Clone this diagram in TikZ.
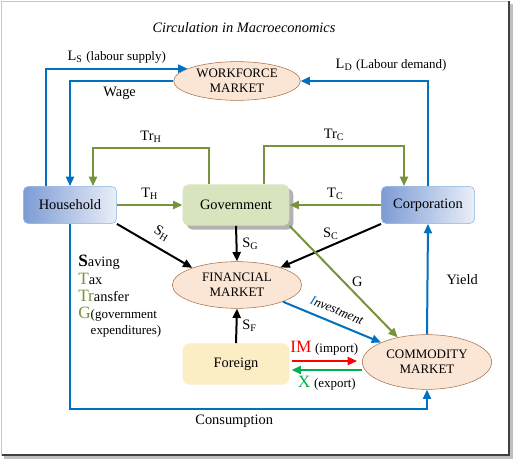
\documentclass[tikz,border=0pt]{standalone}
\usepackage{fontspec}
\setmainfont{Liberation Serif}[Scale=1.08]
\usepackage{xcolor}
\usetikzlibrary{positioning, arrows.meta, calc, shapes.geometric, shadows}

\definecolor{flowblue}{RGB}{0,112,192}
\definecolor{taxgreen}{RGB}{119,147,60}
\definecolor{expgreen}{RGB}{0,176,80}
\definecolor{mktfill}{RGB}{251,229,212}
\definecolor{mktline}{RGB}{168,112,72}
\definecolor{govfill}{RGB}{215,228,189}
\definecolor{forfill}{RGB}{252,238,196}
\definecolor{agentdark}{RGB}{125,155,212}
\definecolor{agentlight}{RGB}{234,239,248}
\definecolor{agentline}{RGB}{140,180,228}

\begin{document}
\begin{tikzpicture}[x=0.75pt, y=-0.75pt,
    market/.style={ellipse, draw=mktline, fill=mktfill, minimum width=97pt, minimum height=35pt, align=center, font=\small, inner sep=0pt},
    agent/.style={draw=agentline, rounded corners=4pt, left color=agentdark, right color=agentlight, minimum width=70pt, minimum height=28pt},
    govbox/.style={rounded corners=5pt, fill=govfill, minimum width=80pt, minimum height=31pt, drop shadow={shadow xshift=3pt, shadow yshift=-3pt, fill=black!30, opacity=1}},
    forbox/.style={rounded corners=5pt, fill=forfill, minimum width=80pt, minimum height=31pt},
    barr/.style={-{Triangle[length=7pt, width=6pt]}, draw=flowblue, line width=1.5pt},
    garr/.style={-{Triangle[length=7pt, width=6pt]}, draw=taxgreen, line width=1.5pt},
    karr/.style={-{Triangle[length=7pt, width=6pt]}, draw=black, line width=1.5pt},
    tarr/.style={-{Triangle[length=7pt, width=6pt]}, line width=1.5pt},
    lbl/.style={font=\normalsize}
]
    \useasboundingbox (0,0) rectangle (513,459);
    % frame
    \fill[black!25] (4,4) rectangle (513,459);
    \draw[black!22, fill=white] (1,1) rectangle (509,455);
    \draw[black!75, line width=1.2pt] (509,1.5) -- (509,455) -- (1.5,455);

    \node[font=\itshape] (title) at (244,28) {Circulation in Macroeconomics};

    \node[market, minimum width=95pt, minimum height=29pt] (work) at (237,81) {WORKFORCE\\MARKET};
    \node[agent] (house) at (70,205) {Household};
    \node[govbox] (gov) at (236,205) {Government};
    \node[agent] (corp) at (428,205) {Corporation};
    \node[market] (fin) at (237,285) {FINANCIAL\\MARKET};
    \node[market, minimum height=41pt] (com) at (427,362) {COMMODITY\\MARKET};
    \node[forbox] (foreign) at (236,364) {Foreign};

    \node[anchor=north west, align=left, inner sep=0pt] (legend) at (78,255)
        {{\large\textbf{S}}aving\\[1pt]
         {\large\color{taxgreen}T}ax\\[1pt]
         {\large\color{taxgreen}Tr}ansfer\\[1pt]
         {\large\color{taxgreen}G}{\small(government}\\
         \hphantom{\large G}{\small expenditures)}};

    % labour market
    \draw[barr] ($(house.north)+(-24,0)$) |- node[pos=0.75, above, lbl] {L\textsubscript{S} {\small(labour supply)}} (work.166);
    \draw[barr] (work.west) -| node[pos=0.26, below, lbl] {Wage} (house.north);
    \draw[barr] (corp.north) |- node[pos=0.645, above=3pt, lbl] {L\textsubscript{D} {\small(Labour demand)}} (work.east);

    % taxes and transfers
    \draw[garr] ($(gov.north)+(-27,0)$) -- ++(0,-36) -| node[pos=0.25, above, lbl] {Tr\textsubscript{H}} ($(house.north)+(23,0)$);
    \draw[garr] ($(gov.north)+(28,0)$) -- ++(0,-38) -| node[pos=0.25, above, lbl] {Tr\textsubscript{C}} ($(corp.north)+(-24,0)$);
    \draw[garr] (house.east) -- node[above, lbl] {T\textsubscript{H}} (gov.west);
    \draw[garr] (corp.west) -- node[above, lbl] {T\textsubscript{C}} (gov.east);

    % savings
    \draw[karr] (house.south east) -- node[midway, above=2pt, sloped, lbl] {S\textsubscript{H}} (fin.159);
    \draw[karr] (gov.south) -- node[midway, right, lbl] {S\textsubscript{G}} (fin.north);
    \draw[karr] (corp.south west) -- node[midway, above, lbl] {S\textsubscript{C}} (fin.22);
    \draw[karr] (foreign.north) -- node[midway, right, lbl] {S\textsubscript{F}} (fin.south);

    % goods
    \draw[garr] (gov.south east) -- node[midway, right=2pt, lbl] {G} (com.140);
    \draw[barr] (fin.340) -- node[midway, above=2pt, sloped, font=\small\itshape] {\textcolor{flowblue}{I}nvestment} (com.157);
    \draw[tarr, draw=red] ($(foreign.east)+(2,-3)$) -- node[above, lbl] {\textcolor{red}{\large IM} {\small(import)}} ($(com.west)+(-5,-1)$);
    \draw[tarr, draw=expgreen] ($(com.west)+(0,8)$) -- node[below, lbl] {\textcolor{expgreen}{\large X} {\small(export)}} ($(foreign.east)+(2,6)$);
    \draw[barr] (house.south) -- ++(0,185) -| node[pos=0.23, below, lbl] {Consumption} (com.south);
    \draw[barr] (com.north) -- node[midway, right=10pt, lbl] {Yield} (corp.south);
\end{tikzpicture}
\end{document}
